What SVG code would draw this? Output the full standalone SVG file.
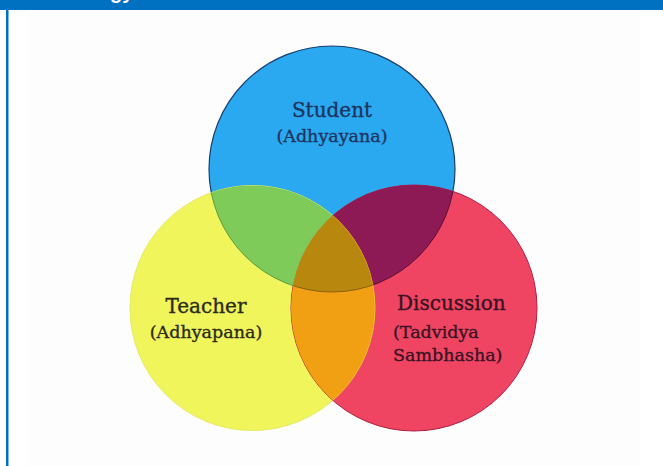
<svg xmlns="http://www.w3.org/2000/svg" width="663" height="466" viewBox="0 0 663 466">
  <style>
    .lbl { font-family: "DejaVu Serif", "Liberation Serif", serif; stroke-width: 0.35; }
    .big { font-size: 20px; }
    .small { font-size: 17.5px; }
    .s { fill: #1f3560; stroke: #1f3560; }
    .t { fill: #2b2b1c; stroke: #2b2b1c; }
    .d { fill: #3a1222; stroke: #3a1222; }
  </style>
  <defs>
    <circle id="cBlue" cx="332" cy="169" r="123"/>
    <circle id="cYellow" cx="252.5" cy="308" r="122.5"/>
    <circle id="cRed" cx="414" cy="308" r="123"/>
    <clipPath id="clipYellow"><use href="#cYellow"/></clipPath>
    <clipPath id="clipRed"><use href="#cRed"/></clipPath>
  </defs>
  <rect x="0" y="0" width="663" height="466" fill="#ffffff"/>
  <rect x="28" y="12" width="612" height="454" fill="#fdfdfd"/>
  <rect x="0" y="0" width="663" height="10" fill="#0070c0"/>
  <rect x="6" y="10" width="2.5" height="456" fill="#0070c0"/>
  <text x="9" y="-1" font-family="Liberation Sans, sans-serif" font-weight="bold" font-size="20" fill="#ffffff">Methodology</text>

  <g id="student">
    <use href="#cBlue" fill="#2aa8f0" stroke="#1b3f6e" stroke-width="1.2"/>
  </g>
  <g id="teacher">
    <use href="#cYellow" fill="#f0f55c" stroke="#e6ea60" stroke-width="1"/>
  </g>
  <g id="discussion">
    <use href="#cRed" fill="#f04562" stroke="#b02040" stroke-width="1"/>
  </g>
  <g id="overlaps">
    <use href="#cBlue" fill="#7ecb5a" stroke="#5a9a40" stroke-width="1" clip-path="url(#clipYellow)"/>
    <use href="#cBlue" fill="#8e1a55" stroke="#5a1038" stroke-width="1" clip-path="url(#clipRed)"/>
    <use href="#cYellow" fill="#f0a012" stroke="#e8c030" stroke-width="1" clip-path="url(#clipRed)"/>
    <g clip-path="url(#clipRed)">
      <use href="#cBlue" fill="#b8870e" stroke="#8a6010" stroke-width="1" clip-path="url(#clipYellow)"/>
    </g>
  </g>
  <g id="labels" class="lbl">
    <text class="big s" x="332" y="117" text-anchor="middle">Student</text>
    <text class="small s" x="332" y="142" text-anchor="middle">(Adhyayana)</text>
    <text class="big t" x="206" y="313" text-anchor="middle">Teacher</text>
    <text class="small t" x="206" y="338" text-anchor="middle">(Adhyapana)</text>
    <text class="big d" x="397" y="310">Discussion</text>
    <text class="small d" x="393" y="338">(Tadvidya</text>
    <text class="small d" x="393" y="361">Sambhasha)</text>
  </g>
</svg>
